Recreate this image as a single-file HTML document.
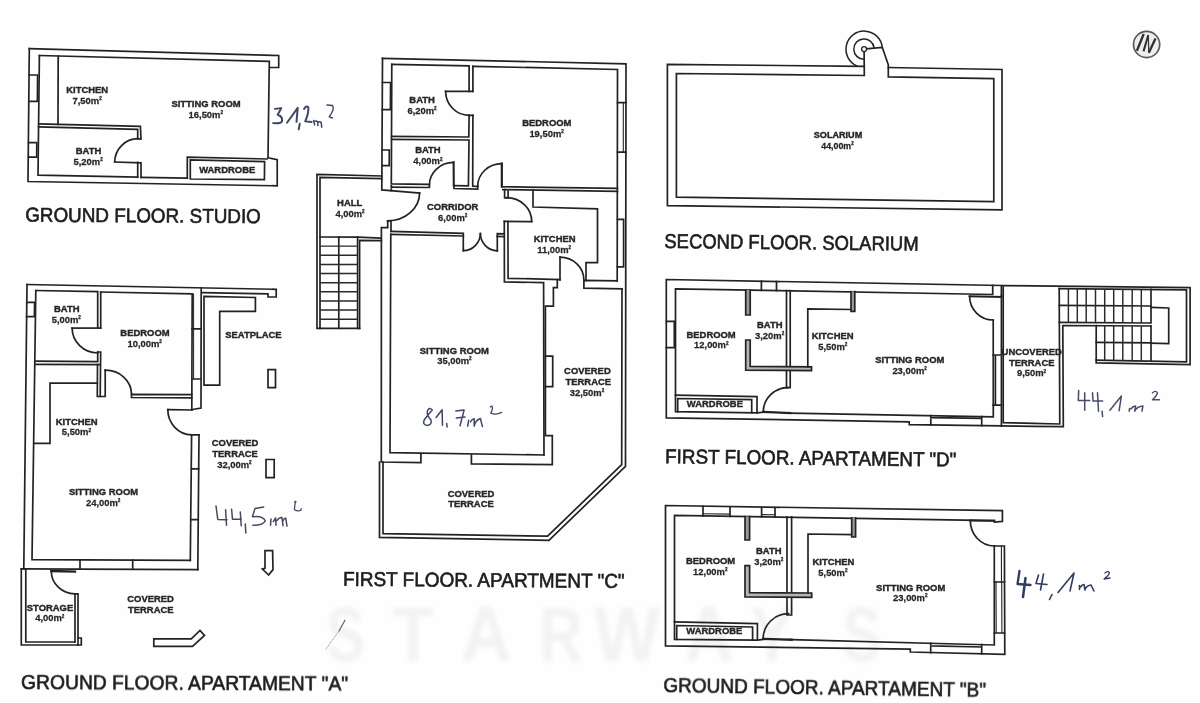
<!DOCTYPE html>
<html>
<head>
<meta charset="utf-8">
<title>Floor plans</title>
<style>
html,body{margin:0;padding:0;background:#fefefe;}
body{width:1200px;height:703px;overflow:hidden;font-family:"Liberation Sans",sans-serif;}
svg{display:block;}
.w{fill:none;stroke:#242424;stroke-width:1.7;stroke-linecap:square;stroke-linejoin:miter;}
.t{fill:none;stroke:#2a2a2a;stroke-width:1.45;stroke-linecap:butt;}
.lb{font-family:"Liberation Sans",sans-serif;font-weight:bold;font-size:9.4px;fill:#262626;text-anchor:middle;}
.ti{font-family:"Liberation Sans",sans-serif;font-size:20px;fill:#1c1c1c;stroke:#1c1c1c;stroke-width:0.6;}
.ink{fill:none;stroke:#3b4c86;stroke-width:1.5;stroke-linecap:round;stroke-linejoin:round;}
.wm{font-family:"Liberation Sans",sans-serif;font-size:78px;font-weight:bold;fill:#f3f3f3;text-anchor:middle;}
</style>
</head>
<body>
<svg width="1200" height="703" viewBox="0 0 1200 703">
<defs>
<filter id="soft" x="-2%" y="-2%" width="104%" height="104%"><feGaussianBlur stdDeviation="0.42"/></filter>
<filter id="wmb" x="-5%" y="-20%" width="110%" height="140%"><feGaussianBlur stdDeviation="2.2"/></filter>
</defs>
<rect x="0" y="0" width="1200" height="703" fill="#fefefe"/>

<!-- WATERMARK -->
<g id="watermark" filter="url(#wmb)">
<text class="wm" transform="translate(345.6 661) scale(0.74 1)">S</text>
<text class="wm" transform="translate(413 661) scale(0.86 1)">T</text>
<text class="wm" transform="translate(486 661) scale(0.9 1)">A</text>
<text class="wm" transform="translate(561 661) scale(0.76 1)">R</text>
<text class="wm" transform="translate(627 661) scale(0.9 1)">W</text>
<text class="wm" transform="translate(709 661) scale(0.86 1)">A</text>
<text class="wm" transform="translate(772 661) scale(0.84 1)">Y</text>
<text class="wm" transform="translate(862 661) scale(0.74 1)">S</text>

</g>

<g id="plans" filter="url(#soft)">

<!-- ================= STUDIO ================= -->
<g id="studio" class="w">
<!-- outer -->
<path d="M29.3,48.7 L278.7,55.5 L278.7,67.5 L270.4,67.5"/>
<path d="M29.3,48.7 L28,181.5 L277.2,185.8 L277.2,159.7 L268,157.7"/>
<!-- inner -->
<path d="M39.4,55.5 L269.3,61.3 L268,157.7"/>
<path d="M39.4,55.5 L38,175.2 L137.7,177.2"/>
<path d="M141,177.3 L187.3,178.2"/>
<!-- left windows -->
<path d="M29.1,75 L37.6,75 L37.4,101.4 L28.9,101.4"/>
<path d="M28.6,142.7 L36.8,142.7 L36.7,157.2 L28.5,157.2"/>
<!-- kitchen counter -->
<path d="M58.2,56 L58,124.3"/>
<!-- kitchen/bath wall -->
<path d="M38.8,123.9 L140.4,126.4 L141,139 L137.7,138.7"/>
<path d="M38.6,126.9 L137.7,129.4 L137.7,138.7"/>
<!-- bath door -->
<path d="M114.7,162 L141,162.8 L141,177.3"/>
<path d="M137.7,162.4 L137.7,177.2"/>
<path d="M114.7,162 A23.2,23.6 0 0 1 137.7,138.7"/>
<!-- wardrobe -->
<path d="M187.3,178.2 L187.3,157.2 L267,159"/>
<path d="M190.3,179 L190.3,159.9 L264.6,161.7 L264.4,179.7 Z"/>

</g>

<!-- ================= APARTMENT A ================= -->
<g id="apA" class="w">
<!-- outer top + notch -->
<path d="M27,284.5 L276.2,289.3 L276.2,297 L268,297 L268,293.8 L202.8,292.6"/>
<!-- outer left / inner left -->
<path d="M27,284.5 L23.8,568.8"/>
<path d="M35.8,290.5 L32,559.7 L190.3,560.3"/>
<!-- bottom outer -->
<path d="M21.3,568.8 L197.8,569.6"/>
<path d="M80,560 L80,569 M132.7,560.2 L132.7,569.2"/>
<!-- right wall of sitting room -->
<path d="M191.6,434.8 L190.3,560.3"/>
<path d="M199,434.8 L197.8,569.6"/>
<path d="M191.6,434.8 L199,434.8 M191.3,468.8 L198.7,468.8 M190.8,519.7 L198.2,519.7"/>
<path d="M26.8,302.3 L34.6,302.3 L34.4,316.6 L26.6,316.6"/>
<!-- bath -->
<path d="M35.8,290.5 L97.7,291.7 L97.7,327.6"/>
<path d="M100.7,292 L100.7,328.1"/>
<path d="M72.1,328.1 L100.7,328.1"/>
<path d="M72.1,328.1 A25.6,25 0 0 0 97.7,353"/>
<path d="M97.7,352 L97.7,361.6 L35.2,361.2"/>
<path d="M35.1,364.4 L99.7,364.6"/>
<path d="M97.7,352 L100.7,352 L100.2,396.5 L105.2,396.5 L105.2,370.2"/>
<path d="M97.5,364.6 L97.3,396.5 L100.2,396.5"/>
<!-- bedroom -->
<path d="M100.7,292 L192.2,293.8 L191.8,410.2"/>
<path d="M193.6,294 L193.6,379" style="stroke-width:1"/>
<path d="M201.2,288 L201,408 L191.8,409.6"/>
<path d="M192,328.8 L201.2,328.8 M192,379 L201,379"/>
<path d="M131.5,397.5 L131.5,394.3 L191.8,394.7 M131.5,397.5 L191.8,397.9"/>
<path d="M105.2,370.2 A26,24 0 0 1 131.5,394"/>
<!-- kitchen counter -->
<path d="M97.3,383.2 L50,383.2 L50,443.3 L34,443.3"/>
<!-- sitting room door -->
<path d="M167.8,409.6 L191.8,410"/>
<path d="M167.8,409.6 A24,25.2 0 0 0 191.6,434.8"/>
<!-- seatplace -->
<path d="M204,296.3 L255.4,297.5 L255.4,311.3 L219.7,311.3 L219.7,385.2 L204,385.2 Z"/>
<!-- small rects -->
<path d="M268,369.7 L275.5,369.7 L275.5,387.7 L268,387.7 Z"/>
<path d="M266,459.5 L274.2,459.5 L274.2,477.6 L266,477.6 Z"/>
<!-- arrow -->
<path d="M265,550.6 L272.6,550.6 L273,569.6 L268.6,575 L262.4,569 L265,568.4 Z"/>
<!-- bent shape -->
<path d="M153.8,638.8 L191.3,638.8 L200,630.5 L204.5,635.5 L192.5,646.3 L153.8,646.3 Z"/>
<!-- storage -->
<path d="M21.3,568.8 L21.3,645 L81.3,645 L81.3,638 L78,638"/>
<path d="M25.8,569 L25.8,642 L75,642"/>
<path d="M75,593.8 L75,642 M78,593.8 L78,645 M75,593.8 L78,593.8"/>
<path d="M51.3,571 L75,571.6" style="stroke-width:2.4"/>
<path d="M51.3,571.3 A23.7,22.5 0 0 0 75,593.8"/>

</g>

<!-- ================= APARTMENT C ================= -->
<g id="apC" class="w">
<!-- outer top/right/diagonal/bottom/left-terrace -->
<path d="M382.5,58.3 L626,63.8 L625.5,466.4 L549,540.3 L379.5,537.3 L379.5,462"/>
<path d="M622,288.9 L621.7,464.7 L547.6,536.2 L383,533.6 L383,462.2"/>
<!-- outer left upper -->
<path d="M382.5,58.3 L381.8,189.9 L419.6,193"/>
<path d="M382.5,82.5 L390.6,82.5 L390.4,109.6 L382.3,109.6"/>
<path d="M382,150 L389.3,150 L389.2,165.7 L382,165.7"/>
<!-- bath 1 -->
<path d="M391.8,64.3 L469.1,65.8 L469.1,91.3 L445.6,91.3"/>
<path d="M391.8,64.3 L391.3,190.6 M391.3,183.8 L429.4,184.3 L429.4,187.5 L391.3,187.2"/>
<path d="M445.6,91.3 A23.5,24 0 0 0 469.1,115.3"/>
<path d="M469.1,91.3 L472.9,91.3 M469.1,115.3 L472.9,115.3"/>
<path d="M469.1,115.3 L468.8,137 L391.6,136.4"/>
<path d="M391.6,139.4 L469,140 L468.4,185.9 L454,185.7"/>
<!-- bedroom left -->
<path d="M472.9,66.3 L472.9,91.3 M472.9,115.3 L472.7,186.2 L477.7,186.3"/>
<path d="M454,185.7 L454,188.5 L477.7,189.1 L477.7,186.3"/>
<!-- bath 2 door -->
<path d="M453.6,162.4 L453.8,185.7" style="stroke-width:2.1"/>
<path d="M453.6,162.4 A24.2,22.6 0 0 0 429.4,185"/>
<!-- bedroom -->
<path d="M472.9,66.3 L617.5,69.5 L617.2,280.9"/>
<path d="M501.8,163.6 L501.8,186.7 L617.5,188.4" /><path d="M501.8,163.6 L501.8,186.7" style="stroke-width:2.1"/>
<path d="M502.8,189.6 L617.5,191.3"/>
<path d="M501.8,163.6 A24.1,22.7 0 0 0 477.7,186.3"/>
<path d="M617.5,102.6 L626,102.6 M617.5,152.2 L626,152.2"/>
<path d="M623.3,102.6 L623.3,152.2" style="stroke-width:1.1"/>
<path d="M617.5,219.3 L623.6,219.3 L623.6,266.9 L617.5,266.9"/>
<!-- hall -->
<path d="M381.6,176 L317,174.3 L317,328.3 L359.6,328.3"/>
<path d="M381.6,178.6 L320,177.3 L320,328.3"/>
<path d="M338.8,237 L338.8,328.3"/>
<path d="M320,237 L357.6,237.1 L380.2,238.1"/>
<path d="M357.6,237.1 L357.6,328.3"/>
<path d="M381.4,240.7 L359.6,240.3 L359.6,328.3"/>
<path d="M320,246.1 H357.6 M320,255.3 H357.6 M320,264.4 H357.6 M320,273.5 H357.6 M320,282.7 H357.6 M320,291.8 H357.6 M320,300.9 H357.6 M320,310 H357.6 M320,319.2 H357.6" class="t"/>
<!-- hall door -->

<path d="M419.6,193 A31.8,28 0 0 1 387.8,220.9"/>
<!-- left wall lower -->
<path d="M387.7,220.9 L387.7,227.6 L381.4,227.6 L381.3,462 L420.9,462.7 L420.9,453.8"/>
<path d="M387.7,220.9 L391,221 L391,231.4"/>
<!-- corridor bottom / sitting top -->
<path d="M391,231.4 L463.3,233.4 L463.3,250.6"/>
<path d="M390.8,234.4 L463.3,236"/>
<path d="M390.8,234.4 L390,452.6 L544,455"/>
<!-- double door -->
<path d="M463.3,250.6 A17.2,17.2 0 0 0 480.4,233.6"/>
<path d="M497.3,250.8 A17.2,17.2 0 0 1 480.4,233.6"/>
<path d="M497.3,250.8 L497.3,233.6 L504.2,233.8"/>
<path d="M497.3,236.4 L504.2,236.6"/>
<!-- wall corridor/kitchen -->
<path d="M504.6,189.6 L504.6,197.8 L508.1,197.8 L508.1,191"/>
<path d="M504.3,221.4 L504.4,281.8 L543.6,282.7 L544,455"/>
<path d="M504.3,221.4 L531.7,221.6"/>
<path d="M507.9,221.6 L508.1,278.3 L560,279.6"/>
<path d="M531.7,221.5 A25,24 0 0 0 506.6,197.6"/>
<!-- kitchen counter -->
<path d="M533,190.3 L533,207 L597.5,208.8 L597.5,262.7 L586,262.6 L586,280.5"/>
<!-- kitchen door -->
<path d="M560,257.2 L560,280"/>
<path d="M560,257.2 A23.9,23 0 0 1 583.9,280.3"/>
<path d="M617.2,280.9 L583.9,280.3 L583.9,288.2 L622,288.9"/>
<!-- stepped wall -->
<path d="M557.3,279.6 L557.3,287.7 L553.4,287.7 L553.4,306.2 L545.4,306.2 L545.4,435.6 L552.3,435.6 L552.3,464.7 L471.4,463.9 L471.4,455"/>
<path d="M545.4,356.2 L552.7,356.2 L552.7,386.6 L545.4,386.6"/>

</g>

<!-- ================= SOLARIUM ================= -->
<g id="sol" class="w">
<!-- outer -->
<path d="M863.5,66.3 L667.4,64.4 L667.4,205.6 L1002,209.8 L1002,69.5 L888.3,67.5"/>
<!-- inner -->
<path d="M864.1,52 L864.3,75.5 L676.4,73.5 L676.4,197.2 L993.8,201.7 L993.8,78.6 L888.3,76.8 L888.3,64.8 L882.3,47.4 L866.8,48.8"/>
<!-- spiral -->
<circle cx="864.1" cy="49.1" r="2.5" style="stroke-width:1.3"/>
<path d="M874.1,47.6 A10.2,10.2 0 1 0 863.8,59.3" style="stroke-width:1.5"/>
<path d="M882.3,47.4 A18.2,18.2 0 1 0 857.2,66.1" style="stroke-width:1.5"/>

</g>

<!-- ================= APARTMENT D ================= -->
<g id="apD" class="w">
<!-- outer -->
<path d="M1001.4,295 L1001.4,285.5 L666.3,279.5 L666.3,417.8 L909.2,421.8 L909.2,424.7 L1001.4,425.9"/>
<!-- inner -->
<path d="M992.7,285.4 L992.7,294.5 L675.5,288.8 L675.5,411.6 L757,412.9 L763.2,412.3"/>
<path d="M790.2,413.2 L993.3,416.8 L993.2,320"/>
<!-- left window -->
<path d="M666.3,321.3 L674.3,321.3 L674.3,347.6 L666.3,347.6"/>
<!-- top window -->
<path d="M761.4,281.2 L761.4,290.3 M776.5,281.5 L776.5,290.6"/>
<!-- wardrobe -->
<path d="M675.5,395.2 L757,396.6 L757,412.9"/>
<path d="M677.7,411.6 L677.7,398.5 L751.7,399.7 L751.7,412.6"/>
<!-- door -->
<path d="M763.2,412 L790.2,413" style="stroke-width:2.3"/>
<path d="M763.2,412 A24.5,24.3 0 0 1 787.7,387.7"/>
<!-- bath/kitchen wall -->
<path d="M786.5,290.5 L786.5,387.7 L790.2,387.7 L790.2,290.6"/>
<!-- bath left wall -->
<path d="M745.7,289.9 L745.7,315 L750.2,315 L750.2,290" style="fill:#9a9a9a"/>
<path d="M745.7,340 L745.7,370.2 L811.5,370.6 L811.5,366.8 L750.2,366.4 L750.2,340 Z" style="fill:#b5b5b5"/>
<!-- counter -->
<path d="M807.8,366.8 L807.8,308.8 L851,309.5"/>
<path d="M851,291.6 L851,311.3 L854.8,311.3 L854.8,291.7" style="fill:#9a9a9a"/>
<!-- sitting room door -->
<path d="M969.6,296.3 L1001.4,297" style="stroke-width:2"/>
<path d="M969.6,296.3 A23.6,23.7 0 0 0 993.2,320"/>
<!-- wall sitting/terrace -->
<path d="M1001.4,295 L1001.4,425.9"/>
<path d="M993.2,355 L1001.4,355 M993.2,405.2 L1001.4,405.2 M995.4,355 L995.4,405.2"/>
<!-- bottom window -->
<path d="M930.8,415.6 L930.8,424.9 M981.7,416.5 L981.7,425.6 M930.8,417.6 L981.7,418.4"/>
<!-- terrace -->
<path d="M1002.7,285.6 L1190.1,287.6 L1190.1,364.6 L1096.2,362.9 L1096.2,325.5"/>
<path d="M1003.2,287 L1003.2,422.7 L1059.8,424 L1059.2,288.6"/>
<path d="M1001.4,425.9 L1063.3,426.7 L1062.8,325.5 L1151,326"/>
<path d="M1059.2,288.6 L1186.5,289.8 L1186.5,361.8 L1096.2,360.2"/>
<!-- stairs -->
<path d="M1059.2,322.4 L1151,323 L1151,289.4"/>
<path d="M1059.2,305.4 L1151,306"/>
<path d="M1096.2,342.4 L1151,342.9"/>
<path d="M1151,326 L1151,361.2"/>
<path d="M1151,307.4 L1168.7,308 L1168.7,343.6 L1151,343.2"/>
<path d="M1068.4,288.7 V322.5 M1077.3,288.8 V322.5 M1086.2,288.9 V322.6 M1095.5,289 V322.7 M1104.7,289 V322.7 M1113.7,289.1 V322.8 M1122.8,289.2 V322.8 M1132.2,289.3 V322.9 M1141.3,289.4 V323" class="t"/>
<path d="M1104.7,325.6 V360.4 M1113.7,325.7 V360.5 M1122.8,325.8 V360.7 M1132.2,325.8 V360.8 M1141.3,325.9 V361" class="t"/>

</g>

<!-- ================= APARTMENT B ================= -->
<g id="apB" class="w">
<!-- outer -->
<path d="M994.3,522 L1002.4,521.4 L1002.4,510.7 L665.5,505.5 L665.5,645.8 L910.3,649.2 L910.3,652 L1004.8,654.3 L1004.4,546 L994.3,546"/>
<!-- inner -->
<path d="M994.3,520.6 L674.5,515.4 L674.5,639.4 L757.4,640.2 L763.1,639.5"/>
<path d="M791.6,639.7 L994.3,645 L994.3,546"/>
<!-- top windows -->
<path d="M703,506.4 V516 M730,506.8 V516.4 M761.6,507.3 V516.9 M775,507.5 V517.1"/>
<path d="M703,513.7 L730,514.1 M761.6,514.6 L775,514.8" style="stroke-width:1.1"/>
<!-- wardrobe -->
<path d="M674.5,621.8 L757.4,623.6 L757.4,640.2"/>
<path d="M676.7,639.4 L676.7,625.5 L752.6,627 L752.6,640.1"/>
<!-- door -->
<path d="M763.1,638.9 L791.6,639.7" style="stroke-width:2.3"/>
<path d="M763.1,638.9 A25.5,25.3 0 0 1 788.6,613.6"/>
<!-- bath/kitchen wall -->
<path d="M787,516.8 L787,615 L791.6,615 L791.6,516.9"/>
<!-- bath left wall -->
<path d="M745,516.6 L745,540 L749.6,540 L749.6,516.7" style="fill:#9a9a9a"/>
<path d="M745,565.6 L745,597 L811.7,597.4 L811.7,593 L749.6,592.6 L749.6,565.6 Z" style="fill:#b5b5b5"/>
<!-- counter -->
<path d="M808,593 L808,534 L851.7,534.6"/>
<path d="M851.7,517.8 L851.7,537 L855.6,537 L855.6,517.9" style="fill:#9a9a9a"/>
<!-- door TR -->
<path d="M970.3,520.4 L994.3,520.8" style="stroke-width:2"/>
<path d="M970.3,520.5 A24,25.5 0 0 0 994.3,546"/>
<!-- right wall ticks -->
<path d="M994.3,582 L1004.4,582 M994.3,633 L1004.6,633"/>
<path d="M1001.4,546 L1001.5,582 M996,582 L996.2,633 M1001.7,582 L1001.9,633" style="stroke-width:1.1"/>
<!-- bottom window -->
<path d="M930.7,643.4 V652.6 M981.7,644.7 V653.8 M930.7,645.8 L981.7,647" />

</g>

<!-- ================= LABELS ================= -->
<g id="labels">
<text class="lb" style="font-size:9.9px;stroke:#262626;stroke-width:0.4" transform="translate(87.2 93.1) scale(0.955 1)">KITCHEN</text>
<text class="lb" style="font-size:9.8px;stroke:#262626;stroke-width:0.25" transform="translate(87.1 103.9) scale(0.96 1)">7,50m<tspan style="font-size:4.8px" dy="-3.8">2</tspan></text>
<text class="lb" style="font-size:9.9px;stroke:#262626;stroke-width:0.4" transform="translate(206 107.1) scale(0.955 1)">SITTING ROOM</text>
<text class="lb" style="font-size:9.8px;stroke:#262626;stroke-width:0.25" transform="translate(205.8 117.6) scale(0.96 1)">16,50m<tspan style="font-size:4.8px" dy="-3.8">2</tspan></text>
<text class="lb" style="font-size:9.9px;stroke:#262626;stroke-width:0.4" transform="translate(88.5 154) scale(0.955 1)">BATH</text>
<text class="lb" style="font-size:9.8px;stroke:#262626;stroke-width:0.25" transform="translate(88.1 164.7) scale(0.96 1)">5,20m<tspan style="font-size:4.8px" dy="-3.8">2</tspan></text>
<text class="lb" style="font-size:9.9px;stroke:#262626;stroke-width:0.4" transform="translate(227.2 173.2) scale(0.955 1)">WARDROBE</text>
<text class="lb" style="font-size:9.9px;stroke:#262626;stroke-width:0.4" transform="translate(66.7 312) scale(0.955 1)">BATH</text>
<text class="lb" style="font-size:9.8px;stroke:#262626;stroke-width:0.25" transform="translate(66.3 323) scale(0.96 1)">5,00m<tspan style="font-size:4.8px" dy="-3.8">2</tspan></text>
<text class="lb" style="font-size:9.9px;stroke:#262626;stroke-width:0.4" transform="translate(145 335.9) scale(0.955 1)">BEDROOM</text>
<text class="lb" style="font-size:9.8px;stroke:#262626;stroke-width:0.25" transform="translate(144.7 346.6) scale(0.96 1)">10,00m<tspan style="font-size:4.8px" dy="-3.8">2</tspan></text>
<text class="lb" style="font-size:9.9px;stroke:#262626;stroke-width:0.4" transform="translate(253.4 338.4) scale(0.955 1)">SEATPLACE</text>
<text class="lb" style="font-size:9.9px;stroke:#262626;stroke-width:0.4" transform="translate(76.7 424.5) scale(0.955 1)">KITCHEN</text>
<text class="lb" style="font-size:9.8px;stroke:#262626;stroke-width:0.25" transform="translate(76.4 435.3) scale(0.96 1)">5,50m<tspan style="font-size:4.8px" dy="-3.8">2</tspan></text>
<text class="lb" style="font-size:9.9px;stroke:#262626;stroke-width:0.4" transform="translate(235.1 445.5) scale(0.955 1)">COVERED</text>
<text class="lb" style="font-size:9.9px;stroke:#262626;stroke-width:0.4" transform="translate(235.1 457) scale(0.955 1)">TERRACE</text>
<text class="lb" style="font-size:9.8px;stroke:#262626;stroke-width:0.25" transform="translate(234.4 468) scale(0.96 1)">32,00m<tspan style="font-size:4.8px" dy="-3.8">2</tspan></text>
<text class="lb" style="font-size:9.9px;stroke:#262626;stroke-width:0.4" transform="translate(103.5 494.6) scale(0.955 1)">SITTING ROOM</text>
<text class="lb" style="font-size:9.8px;stroke:#262626;stroke-width:0.25" transform="translate(103.2 505.9) scale(0.96 1)">24,00m<tspan style="font-size:4.8px" dy="-3.8">2</tspan></text>
<text class="lb" style="font-size:9.9px;stroke:#262626;stroke-width:0.4" transform="translate(50 610.5) scale(0.955 1)">STORAGE</text>
<text class="lb" style="font-size:9.8px;stroke:#262626;stroke-width:0.25" transform="translate(49.8 621.3) scale(0.96 1)">4,00m<tspan style="font-size:4.8px" dy="-3.8">2</tspan></text>
<text class="lb" style="font-size:9.9px;stroke:#262626;stroke-width:0.4" transform="translate(150.6 602.2) scale(0.955 1)">COVERED</text>
<text class="lb" style="font-size:9.9px;stroke:#262626;stroke-width:0.4" transform="translate(150.8 613) scale(0.955 1)">TERRACE</text>
<text class="lb" style="font-size:9.9px;stroke:#262626;stroke-width:0.4" transform="translate(422.1 102.6) scale(0.955 1)">BATH</text>
<text class="lb" style="font-size:9.8px;stroke:#262626;stroke-width:0.25" transform="translate(422 113.9) scale(0.96 1)">6,20m<tspan style="font-size:4.8px" dy="-3.8">2</tspan></text>
<text class="lb" style="font-size:9.9px;stroke:#262626;stroke-width:0.4" transform="translate(546.8 125.9) scale(0.955 1)">BEDROOM</text>
<text class="lb" style="font-size:9.8px;stroke:#262626;stroke-width:0.25" transform="translate(546.6 136.9) scale(0.96 1)">19,50m<tspan style="font-size:4.8px" dy="-3.8">2</tspan></text>
<text class="lb" style="font-size:9.9px;stroke:#262626;stroke-width:0.4" transform="translate(427.9 153.2) scale(0.955 1)">BATH</text>
<text class="lb" style="font-size:9.8px;stroke:#262626;stroke-width:0.25" transform="translate(427.9 164.4) scale(0.96 1)">4,00m<tspan style="font-size:4.8px" dy="-3.8">2</tspan></text>
<text class="lb" style="font-size:9.9px;stroke:#262626;stroke-width:0.4" transform="translate(452.7 209.8) scale(0.955 1)">CORRIDOR</text>
<text class="lb" style="font-size:9.8px;stroke:#262626;stroke-width:0.25" transform="translate(452.7 220.9) scale(0.96 1)">6,00m<tspan style="font-size:4.8px" dy="-3.8">2</tspan></text>
<text class="lb" style="font-size:9.9px;stroke:#262626;stroke-width:0.4" transform="translate(349.7 206.3) scale(0.955 1)">HALL</text>
<text class="lb" style="font-size:9.8px;stroke:#262626;stroke-width:0.25" transform="translate(350 217.1) scale(0.96 1)">4,00m<tspan style="font-size:4.8px" dy="-3.8">2</tspan></text>
<text class="lb" style="font-size:9.9px;stroke:#262626;stroke-width:0.4" transform="translate(554.6 242.1) scale(0.955 1)">KITCHEN</text>
<text class="lb" style="font-size:9.8px;stroke:#262626;stroke-width:0.25" transform="translate(554.2 252.7) scale(0.96 1)">11,00m<tspan style="font-size:4.8px" dy="-3.8">2</tspan></text>
<text class="lb" style="font-size:9.9px;stroke:#262626;stroke-width:0.4" transform="translate(454.4 353.6) scale(0.955 1)">SITTING ROOM</text>
<text class="lb" style="font-size:9.8px;stroke:#262626;stroke-width:0.25" transform="translate(454.4 363.8) scale(0.96 1)">35,00m<tspan style="font-size:4.8px" dy="-3.8">2</tspan></text>
<text class="lb" style="font-size:9.9px;stroke:#262626;stroke-width:0.4" transform="translate(587.4 373.6) scale(0.955 1)">COVERED</text>
<text class="lb" style="font-size:9.9px;stroke:#262626;stroke-width:0.4" transform="translate(588.3 385) scale(0.955 1)">TERRACE</text>
<text class="lb" style="font-size:9.8px;stroke:#262626;stroke-width:0.25" transform="translate(587 395.5) scale(0.96 1)">32,50m<tspan style="font-size:4.8px" dy="-3.8">2</tspan></text>
<text class="lb" style="font-size:9.9px;stroke:#262626;stroke-width:0.4" transform="translate(471 496.5) scale(0.955 1)">COVERED</text>
<text class="lb" style="font-size:9.9px;stroke:#262626;stroke-width:0.4" transform="translate(471 507.2) scale(0.955 1)">TERRACE</text>
<text class="lb" style="font-size:9.2px;stroke:#262626;stroke-width:0.4" transform="translate(838 138) scale(0.99 1)">SOLARIUM</text>
<text class="lb" style="font-size:9.2px;stroke:#262626;stroke-width:0.25" transform="translate(837.5 149) scale(0.96 1)">44,00m<tspan style="font-size:4.8px" dy="-3.8">2</tspan></text>
<text class="lb" style="font-size:9.9px;stroke:#262626;stroke-width:0.4" transform="translate(711.1 337.6) scale(0.955 1)">BEDROOM</text>
<text class="lb" style="font-size:9.8px;stroke:#262626;stroke-width:0.25" transform="translate(711.3 348.4) scale(0.96 1)">12,00m<tspan style="font-size:4.8px" dy="-3.8">2</tspan></text>
<text class="lb" style="font-size:9.9px;stroke:#262626;stroke-width:0.4" transform="translate(769.7 327.6) scale(0.955 1)">BATH</text>
<text class="lb" style="font-size:9.8px;stroke:#262626;stroke-width:0.25" transform="translate(769.6 338.9) scale(0.96 1)">3,20m<tspan style="font-size:4.8px" dy="-3.8">2</tspan></text>
<text class="lb" style="font-size:9.9px;stroke:#262626;stroke-width:0.4" transform="translate(832.6 338.9) scale(0.955 1)">KITCHEN</text>
<text class="lb" style="font-size:9.8px;stroke:#262626;stroke-width:0.25" transform="translate(832.8 349.6) scale(0.96 1)">5,50m<tspan style="font-size:4.8px" dy="-3.8">2</tspan></text>
<text class="lb" style="font-size:9.9px;stroke:#262626;stroke-width:0.4" transform="translate(909.8 363.2) scale(0.955 1)">SITTING ROOM</text>
<text class="lb" style="font-size:9.8px;stroke:#262626;stroke-width:0.25" transform="translate(909.6 373.9) scale(0.96 1)">23,00m<tspan style="font-size:4.8px" dy="-3.8">2</tspan></text>
<text class="lb" style="font-size:9.9px;stroke:#262626;stroke-width:0.4" transform="translate(714.9 407.2) scale(0.955 1)">WARDROBE</text>
<text class="lb" style="font-size:9.9px;stroke:#262626;stroke-width:0.4" transform="translate(1031.7 354.6) scale(0.955 1)">UNCOVERED</text>
<text class="lb" style="font-size:9.9px;stroke:#262626;stroke-width:0.4" transform="translate(1031.7 366.4) scale(0.955 1)">TERRACE</text>
<text class="lb" style="font-size:9.8px;stroke:#262626;stroke-width:0.25" transform="translate(1031.5 376.4) scale(0.96 1)">9,50m<tspan style="font-size:4.8px" dy="-3.8">2</tspan></text>
<text class="lb" style="font-size:9.9px;stroke:#262626;stroke-width:0.4" transform="translate(710.6 564.1) scale(0.955 1)">BEDROOM</text>
<text class="lb" style="font-size:9.8px;stroke:#262626;stroke-width:0.25" transform="translate(710.3 574.6) scale(0.96 1)">12,00m<tspan style="font-size:4.8px" dy="-3.8">2</tspan></text>
<text class="lb" style="font-size:9.9px;stroke:#262626;stroke-width:0.4" transform="translate(768.8 553.6) scale(0.955 1)">BATH</text>
<text class="lb" style="font-size:9.8px;stroke:#262626;stroke-width:0.25" transform="translate(768.8 565) scale(0.96 1)">3,20m<tspan style="font-size:4.8px" dy="-3.8">2</tspan></text>
<text class="lb" style="font-size:9.9px;stroke:#262626;stroke-width:0.4" transform="translate(833.4 565) scale(0.955 1)">KITCHEN</text>
<text class="lb" style="font-size:9.8px;stroke:#262626;stroke-width:0.25" transform="translate(832.9 575.5) scale(0.96 1)">5,50m<tspan style="font-size:4.8px" dy="-3.8">2</tspan></text>
<text class="lb" style="font-size:9.9px;stroke:#262626;stroke-width:0.4" transform="translate(910.7 590.5) scale(0.955 1)">SITTING ROOM</text>
<text class="lb" style="font-size:9.8px;stroke:#262626;stroke-width:0.25" transform="translate(910.3 600.7) scale(0.96 1)">23,00m<tspan style="font-size:4.8px" dy="-3.8">2</tspan></text>
<text class="lb" style="font-size:9.9px;stroke:#262626;stroke-width:0.4" transform="translate(714.3 633.7) scale(0.955 1)">WARDROBE</text>

</g>

<!-- ================= TITLES ================= -->
<g id="titles">
<text class="ti" x="25.2" y="221.6" textLength="235.6" lengthAdjust="spacingAndGlyphs" transform="rotate(0.38 25.2 221.6)">GROUND FLOOR. STUDIO</text>
<text class="ti" x="21.1" y="689.2" textLength="327" lengthAdjust="spacingAndGlyphs" transform="rotate(0.27 21.1 689.2)">GROUND FLOOR. APARTAMENT &quot;A&quot;</text>
<text class="ti" x="342.9" y="585.8" textLength="281.7" lengthAdjust="spacingAndGlyphs" transform="rotate(0.43 342.9 585.8)">FIRST FLOOR. APARTMENT &quot;C&quot;</text>
<text class="ti" x="664.3" y="247.9" textLength="254.3" lengthAdjust="spacingAndGlyphs" transform="rotate(0.63 664.3 247.9)">SECOND FLOOR. SOLARIUM</text>
<text class="ti" x="665.1" y="463.2" textLength="291.2" lengthAdjust="spacingAndGlyphs" transform="rotate(0.66 665.1 463.2)">FIRST FLOOR. APARTAMENT &quot;D&quot;</text>
<text class="ti" x="663.2" y="692.1" textLength="322.7" lengthAdjust="spacingAndGlyphs" transform="rotate(0.86 663.2 692.1)">GROUND FLOOR. APARTAMENT &quot;B&quot;</text>

</g>

</g>

<!-- ================= HANDWRITING ================= -->
<g id="ink" class="ink" filter="url(#soft)">
<!-- 31,2m2 -->
<g style="stroke:#3d4663;stroke-width:1.95">
<path d="M275,108.9 L281.3,108.1 L277.7,114.8 Q283.2,116.6 281.9,121.6 Q280.5,123.6 273.2,123.1"/>
<path d="M287,122.7 L297.7,107.9 L296.5,121.9"/>
<path d="M299.8,123.8 L298.7,129.4"/>
<path d="M304,109 Q306.2,105 308.3,107.2 Q309,113 305.2,121.4 L311.6,122"/>
<path d="M313.6,120.6 L314.7,124.8 M314,121.6 Q316,120.3 317.6,121.6 L318,125.6 M317.8,122.4 Q319.6,121.1 321.2,122.3 L321.7,127.2" style="stroke-width:1.5"/>
<path d="M327,105 L332.4,105.5 Q335.2,108.5 329.2,116.8 L332.4,118" style="stroke-width:1.4"/>
</g>
<!-- 44,5m2 -->
<g style="stroke:#474a5e;stroke-width:1.5">
<path d="M216,506 L217.8,519.4 L227,519.8"/>
<path d="M225.6,509.7 L226.5,525.3"/>
<path d="M231.6,509.2 L232.5,519.3 L241.2,519.3"/>
<path d="M240.3,512 L241.2,525.7"/>
<path d="M245.3,523.9 L245.8,533"/>
<path d="M263.7,507 L255,508.4 L252.4,516.8 Q263,515.5 265.3,520.8 Q263,525.6 252.8,525.3"/>
<path d="M271,519 L270.5,525.3"/>
<path d="M273.3,521.6 L275.6,518 L276,525.3 M276.4,521.2 Q279,517.4 282,517.6 L283,525.7 M283.1,520.6 Q284.4,518 285.7,518 L287,526.2"/>
<circle cx="295.3" cy="501.8" r="0.7" style="fill:#474a5e;stroke-width:0.8"/>
<path d="M295.2,502 L294.4,509.4 Q297,511.6 300.8,510.4 L301.2,508.6" style="stroke-width:1.3"/>
</g>
<!-- 81,7m2 -->
<g style="stroke:#3f4763;stroke-width:1.5">
<path d="M432.3,410 Q429,406.5 427.3,411.3 Q426.8,415.6 430.8,419.6 Q432.6,424.6 427,425.4 Q422,424.4 424.3,419.8 Q428,414.6 432.3,410"/>
<path d="M436.1,417.5 L442.1,409.7 L442.5,425.2"/>
<path d="M446.7,423.4 L447.1,427"/>
<path d="M455.8,411 L464.1,410.1 L460,425.7 M456.3,417.9 L465,417"/>
<path d="M468.7,420.2 L467.7,426.2"/>
<path d="M470.5,422 Q472,419 474.2,418.8 L474.2,426.2 Q475,420.5 480.4,418.5 L482.4,426.6"/>
<path d="M490.2,407 L492,406 Q493.4,408.4 490.7,413.2 Q496,415.4 501.7,412.4" style="stroke-width:1.3"/>
</g>
<!-- 44,1m2 (D) -->
<g style="stroke:#474c66;stroke-width:1.5">
<path d="M1078.7,390.5 L1078.3,400.6 L1089.7,400.6"/>
<path d="M1084.7,392.8 L1084.7,410.2"/>
<path d="M1092.5,392.8 L1093,401.1 L1102.6,401.1"/>
<path d="M1097.5,392.8 L1098.5,411.2"/>
<path d="M1102.1,411.2 L1102.6,416.6"/>
<path d="M1109.9,410.2 L1121.4,396 L1119.1,410.7"/>
<path d="M1129.6,408.4 L1129.2,411.2"/>
<path d="M1130.8,409 Q1133,406.2 1135.6,406.1 L1134.7,411.2 Q1136.5,407 1142.9,406.1 L1142,411.2"/>
<path d="M1152.5,392.8 Q1155.5,390 1157.4,392.6 Q1157,395.6 1152.5,399.7 L1159.4,399.7" style="stroke-width:1.4"/>
</g>
<!-- 44,1m2 (B) -->
<g style="stroke:#323a63;stroke-width:1.6">
<path d="M1019.5,571 L1017.5,584 L1030.5,585" style="stroke-width:2.3"/>
<path d="M1025.5,578 L1023,597" style="stroke-width:2.5"/>
<path d="M1038.5,575 L1036,583.5 L1047,584.5"/>
<path d="M1043.5,574 L1040.5,590"/>
<path d="M1052,594.5 L1049.5,599.5"/>
<path d="M1058,592.5 L1074,573 L1070,591"/>
<path d="M1079.5,585.5 L1079.5,589.5"/>
<path d="M1080.6,587 Q1082,584.6 1084,584.5 L1085,590 Q1085.6,586 1091,585 L1094,591"/>
<path d="M1105,573 Q1107.5,570.6 1109.4,572.6 Q1109,575.6 1104,579 L1110,578" style="stroke-width:1.3"/>
</g>
<!-- stray pen mark -->
<path d="M345,620.2 L339,631" style="stroke:#5a5a5a;stroke-width:1.1"/>
<path d="M339,631 L326,649" style="stroke:#9a9a9a;stroke-width:0.8;stroke-dasharray:3 1.2"/>
<!-- north symbol -->
<circle cx="1146.6" cy="44.5" r="13.1" style="stroke:#5a5a5a;stroke-width:1.7;fill:#eeeeee"/>
<path d="M1136.9,50.8 L1143.7,34" style="stroke:#2e2e2e;stroke-width:2.3;stroke-linecap:butt"/>
<path d="M1143.5,51.4 L1148.3,35" style="stroke:#2e2e2e;stroke-width:2;stroke-linecap:butt"/>
<path d="M1148.3,35 L1148.8,52.8" style="stroke:#3a3a3a;stroke-width:1.3;stroke-linecap:butt"/>
<path d="M1148.8,52.8 L1155.5,38.6" style="stroke:#2e2e2e;stroke-width:2.3;stroke-linecap:butt"/>

</g>

</svg>
</body>
</html>
